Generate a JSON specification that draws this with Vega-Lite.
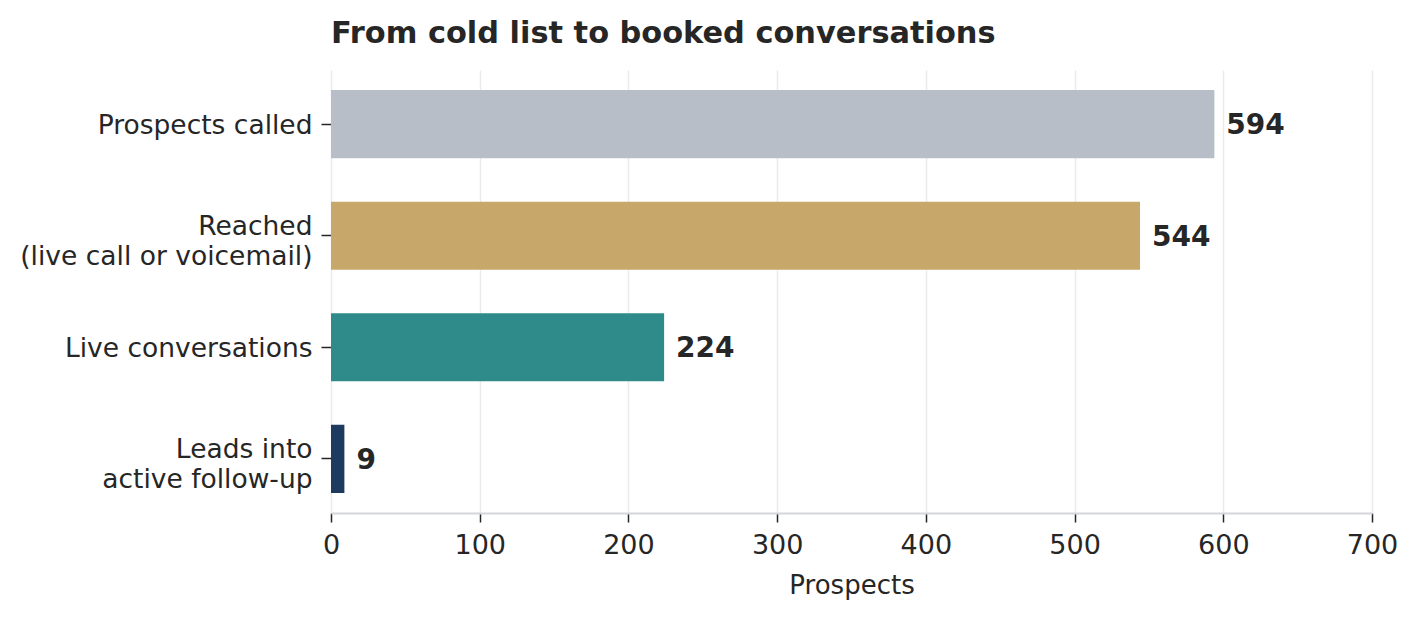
{
  "$schema": "https://vega.github.io/schema/vega-lite/v6.json",
  "autosize": "none",
  "width": 1041,
  "height": 443,
  "padding": {"left": 331, "top": 70, "right": 48, "bottom": 106},
  "background": "white",
  "title": {
    "text": "From cold list to booked conversations",
    "anchor": "start",
    "frame": "group",
    "font": "DejaVu Sans",
    "fontSize": 30.4,
    "fontWeight": "bold",
    "color": "#262626",
    "offset": 21
  },
  "config": {
    "view": {"stroke": null},
    "axis": {
      "labelFont": "DejaVu Sans",
      "titleFont": "DejaVu Sans",
      "labelColor": "#262626",
      "titleColor": "#262626"
    }
  },
  "data": {
    "values": [
      {"stage": "Prospects called", "prospects": 594},
      {"stage": "Reached\n(live call or voicemail)", "prospects": 544},
      {"stage": "Live conversations", "prospects": 224},
      {"stage": "Leads into\nactive follow-up", "prospects": 9}
    ]
  },
  "encoding": {
    "y": {
      "field": "stage",
      "type": "nominal",
      "sort": null,
      "scale": {"paddingInner": 0.39, "paddingOuter": 0.18},
      "axis": {
        "title": null,
        "domain": false,
        "grid": false,
        "labelExpr": "split(datum.label, '\\n')",
        "labelFontSize": 26.5,
        "labelLineHeight": 30,
        "labelLimit": 400,
        "labelPadding": 9,
        "labelOffset": {
          "condition": {"test": "indexof(datum.value, '\\n') >= 0", "value": -9},
          "value": 2
        },
        "tickColor": "#262626",
        "tickSize": 10,
        "tickWidth": 1.5
      }
    },
    "x": {
      "field": "prospects",
      "type": "quantitative",
      "scale": {"domain": [0, 700]},
      "axis": {
        "values": [0, 100, 200, 300, 400, 500, 600, 700],
        "grid": true,
        "gridColor": "#ebebee",
        "gridWidth": 1.5,
        "domainColor": "#d4d6da",
        "domainWidth": 2,
        "tickColor": "#262626",
        "tickSize": 9,
        "tickWidth": 1.5,
        "labelFontSize": 27,
        "labelPadding": 10,
        "labelFlush": false,
        "title": "Prospects",
        "titleFontSize": 26,
        "titleFontWeight": "normal",
        "titlePadding": 14
      }
    }
  },
  "layer": [
    {
      "mark": {"type": "bar"},
      "encoding": {
        "color": {
          "field": "stage",
          "type": "nominal",
          "legend": null,
          "scale": {
            "domain": [
              "Prospects called",
              "Reached\n(live call or voicemail)",
              "Live conversations",
              "Leads into\nactive follow-up"
            ],
            "range": ["#b7bec8", "#c8a86a", "#2e8b8a", "#1f3a5f"]
          }
        }
      }
    },
    {
      "mark": {
        "type": "text",
        "align": "left",
        "baseline": "middle",
        "dx": 12,
        "dy": 2,
        "font": "DejaVu Sans",
        "fontSize": 28,
        "fontWeight": "bold",
        "color": "#262626"
      },
      "encoding": {
        "text": {"field": "prospects", "type": "quantitative"}
      }
    }
  ]
}
